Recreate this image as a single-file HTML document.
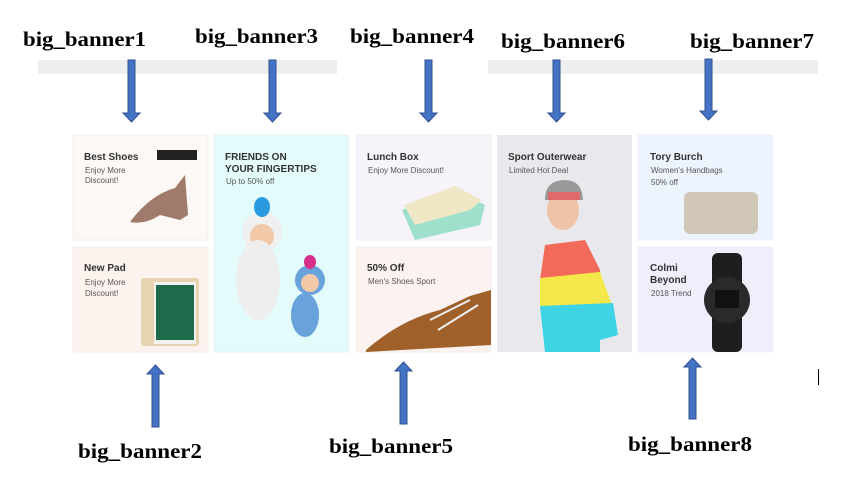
<!DOCTYPE html>
<html><head><meta charset="utf-8"><style>
html,body{margin:0;padding:0;background:#fff;}
svg{display:block;}
.lb{font-family:"Liberation Serif",serif;font-weight:bold;font-size:21px;fill:#000;}
.t{font-family:"Liberation Sans",sans-serif;font-weight:bold;font-size:10px;fill:#333;}
.s{font-family:"Liberation Sans",sans-serif;font-size:8px;fill:#555;}
.ar{fill:#4472C4;stroke:#2F528F;stroke-width:1;}
</style></head><body>
<svg width="842" height="494" viewBox="0 0 842 494" xmlns="http://www.w3.org/2000/svg">
<rect x="38" y="60" width="299" height="14" fill="#eeeeee"/>
<rect x="488" y="60" width="330" height="14" fill="#eeeeee"/>

<text class="lb" x="23" y="46" textLength="123" lengthAdjust="spacingAndGlyphs">big_banner1</text>
<text class="lb" x="195" y="43" textLength="123" lengthAdjust="spacingAndGlyphs">big_banner3</text>
<text class="lb" x="350" y="43" textLength="124" lengthAdjust="spacingAndGlyphs">big_banner4</text>
<text class="lb" x="501" y="48" textLength="124" lengthAdjust="spacingAndGlyphs">big_banner6</text>
<text class="lb" x="690" y="48" textLength="124" lengthAdjust="spacingAndGlyphs">big_banner7</text>
<text class="lb" x="78" y="458" textLength="124" lengthAdjust="spacingAndGlyphs">big_banner2</text>
<text class="lb" x="329" y="453" textLength="124" lengthAdjust="spacingAndGlyphs">big_banner5</text>
<text class="lb" x="628" y="451" textLength="124" lengthAdjust="spacingAndGlyphs">big_banner8</text>

<!-- tiles -->
<rect x="73" y="135" width="135" height="105" fill="#fbf8f5" stroke="#eee" stroke-width="0.8"/>
<rect x="73" y="247" width="135" height="105" fill="#fcf3ef" stroke="#eee" stroke-width="0.8"/>
<rect x="214" y="135" width="135" height="217" fill="#e4fbfc" stroke="#e8f0f0" stroke-width="0.8"/>
<rect x="356" y="135" width="135" height="105" fill="#f6f3fb" stroke="#eee" stroke-width="0.8"/>
<rect x="356" y="247" width="135" height="105" fill="#fcf2ef" stroke="#eee" stroke-width="0.8"/>
<rect x="497" y="135" width="135" height="217" fill="#e9e8ed"/>
<rect x="638" y="135" width="135" height="105" fill="#edf4fd" stroke="#eef" stroke-width="0.8"/>
<rect x="638" y="247" width="135" height="105" fill="#efeefb" stroke="#eef" stroke-width="0.8"/>

<!-- tile text -->
<text class="t" x="84" y="160">Best Shoes</text>
<text class="s" x="85" y="173">Enjoy More</text>
<text class="s" x="85" y="183">Discount!</text>
<text class="t" x="84" y="271">New Pad</text>
<text class="s" x="85" y="285">Enjoy More</text>
<text class="s" x="85" y="296">Discount!</text>
<text class="t" x="225" y="160">FRIENDS ON</text>
<text class="t" x="225" y="172">YOUR FINGERTIPS</text>
<text class="s" x="226" y="184">Up to 50% off</text>
<text class="t" x="367" y="160">Lunch Box</text>
<text class="s" x="368" y="173">Enjoy More Discount!</text>
<text class="t" x="367" y="271">50% Off</text>
<text class="s" x="368" y="284">Men's Shoes Sport</text>
<text class="t" x="508" y="160">Sport Outerwear</text>
<text class="s" x="509" y="173">Limited Hot Deal</text>
<text class="t" x="650" y="160">Tory Burch</text>
<text class="s" x="651" y="173">Women's Handbags</text>
<text class="s" x="651" y="185">50% off</text>
<text class="t" x="650" y="271">Colmi</text>
<text class="t" x="650" y="283">Beyond</text>
<text class="s" x="651" y="296">2018 Trend</text>

<!-- shoe -->
<path d="M130 222 Q150 195 175 188 L185 175 L188 215 L180 220 L160 215 Q145 225 130 222Z" fill="#a07a6a"/>
<rect x="157" y="150" width="40" height="10" fill="#222"/>
<!-- ipad -->
<rect x="141" y="278" width="58" height="68" rx="3" fill="#e8d3b0"/>
<rect x="154" y="282" width="42" height="62" fill="#f2f2f2"/>
<rect x="156" y="285" width="38" height="55" fill="#1d6b4a"/>
<!-- monkeys -->
<circle cx="262" cy="232" r="20" fill="#f0f0f0"/>
<circle cx="262" cy="236" r="12" fill="#f2c9a8"/>
<ellipse cx="262" cy="207" rx="8" ry="10" fill="#2a9be0"/>
<ellipse cx="258" cy="280" rx="22" ry="40" fill="#eeeeee"/>
<circle cx="310" cy="280" r="15" fill="#6aa2dc"/>
<circle cx="310" cy="283" r="9" fill="#f2c9a8"/>
<ellipse cx="310" cy="262" rx="6" ry="7" fill="#d8308a"/>
<ellipse cx="305" cy="315" rx="14" ry="22" fill="#6aa2dc"/>
<!-- lunch box -->
<path d="M402 210 L455 190 L485 205 L480 225 L415 240 Z" fill="#9ee0cc"/>
<path d="M404 205 L455 186 L482 200 L470 210 L415 225 Z" fill="#efe7c6"/>
<!-- shoe 2 -->
<path d="M366 350 Q400 320 440 310 L470 296 L491 290 L491 345 L366 352Z" fill="#a0602a"/>
<path d="M430 320 L470 300 M438 330 L478 305" stroke="#eee" stroke-width="2" fill="none"/>
<!-- woman -->
<ellipse cx="563" cy="210" rx="16" ry="20" fill="#eec3a8"/>
<path d="M545 200 Q545 180 565 180 Q582 180 583 200 Z" fill="#999"/>
<rect x="548" y="192" width="32" height="8" fill="#e06a6a"/>
<path d="M545 245 L585 240 L600 270 L600 275 L540 280 Z" fill="#f26b5a"/>
<path d="M540 278 L600 272 L612 305 L540 308 Z" fill="#f5e84a"/>
<path d="M540 306 L613 303 L618 335 L600 340 L600 352 L545 352 Z" fill="#3ed4e6"/>
<!-- bag -->
<rect x="684" y="192" width="74" height="42" rx="6" fill="#d1c7b6"/>
<!-- watch -->
<rect x="712" y="253" width="30" height="99" rx="6" fill="#1e1e1e"/>
<circle cx="727" cy="300" r="23" fill="#2a2a2a"/>
<rect x="715" y="290" width="24" height="18" fill="#111"/>

<!-- down arrows -->
<path class="ar" d="M128 60 h7 v53 h5 l-8.5 9 l-8.5 -9 h5 Z"/>
<path class="ar" d="M269 60 h7 v53 h5 l-8.5 9 l-8.5 -9 h5 Z"/>
<path class="ar" d="M425 60 h7 v53 h5 l-8.5 9 l-8.5 -9 h5 Z"/>
<path class="ar" d="M553 60 h7 v53 h5 l-8.5 9 l-8.5 -9 h5 Z"/>
<path class="ar" d="M705 59 h7 v52 h5 l-8.5 9 l-8.5 -9 h5 Z"/>
<!-- up arrows -->
<path class="ar" d="M152 427 h7 v-53 h5 l-8.5 -9 l-8.5 9 h5 Z"/>
<path class="ar" d="M400 424 h7 v-53 h5 l-8.5 -9 l-8.5 9 h5 Z"/>
<path class="ar" d="M689 419 h7 v-52 h5 l-8.5 -9 l-8.5 9 h5 Z"/>

<rect x="818" y="369" width="1" height="16" fill="#000"/>
</svg>
</body></html>
